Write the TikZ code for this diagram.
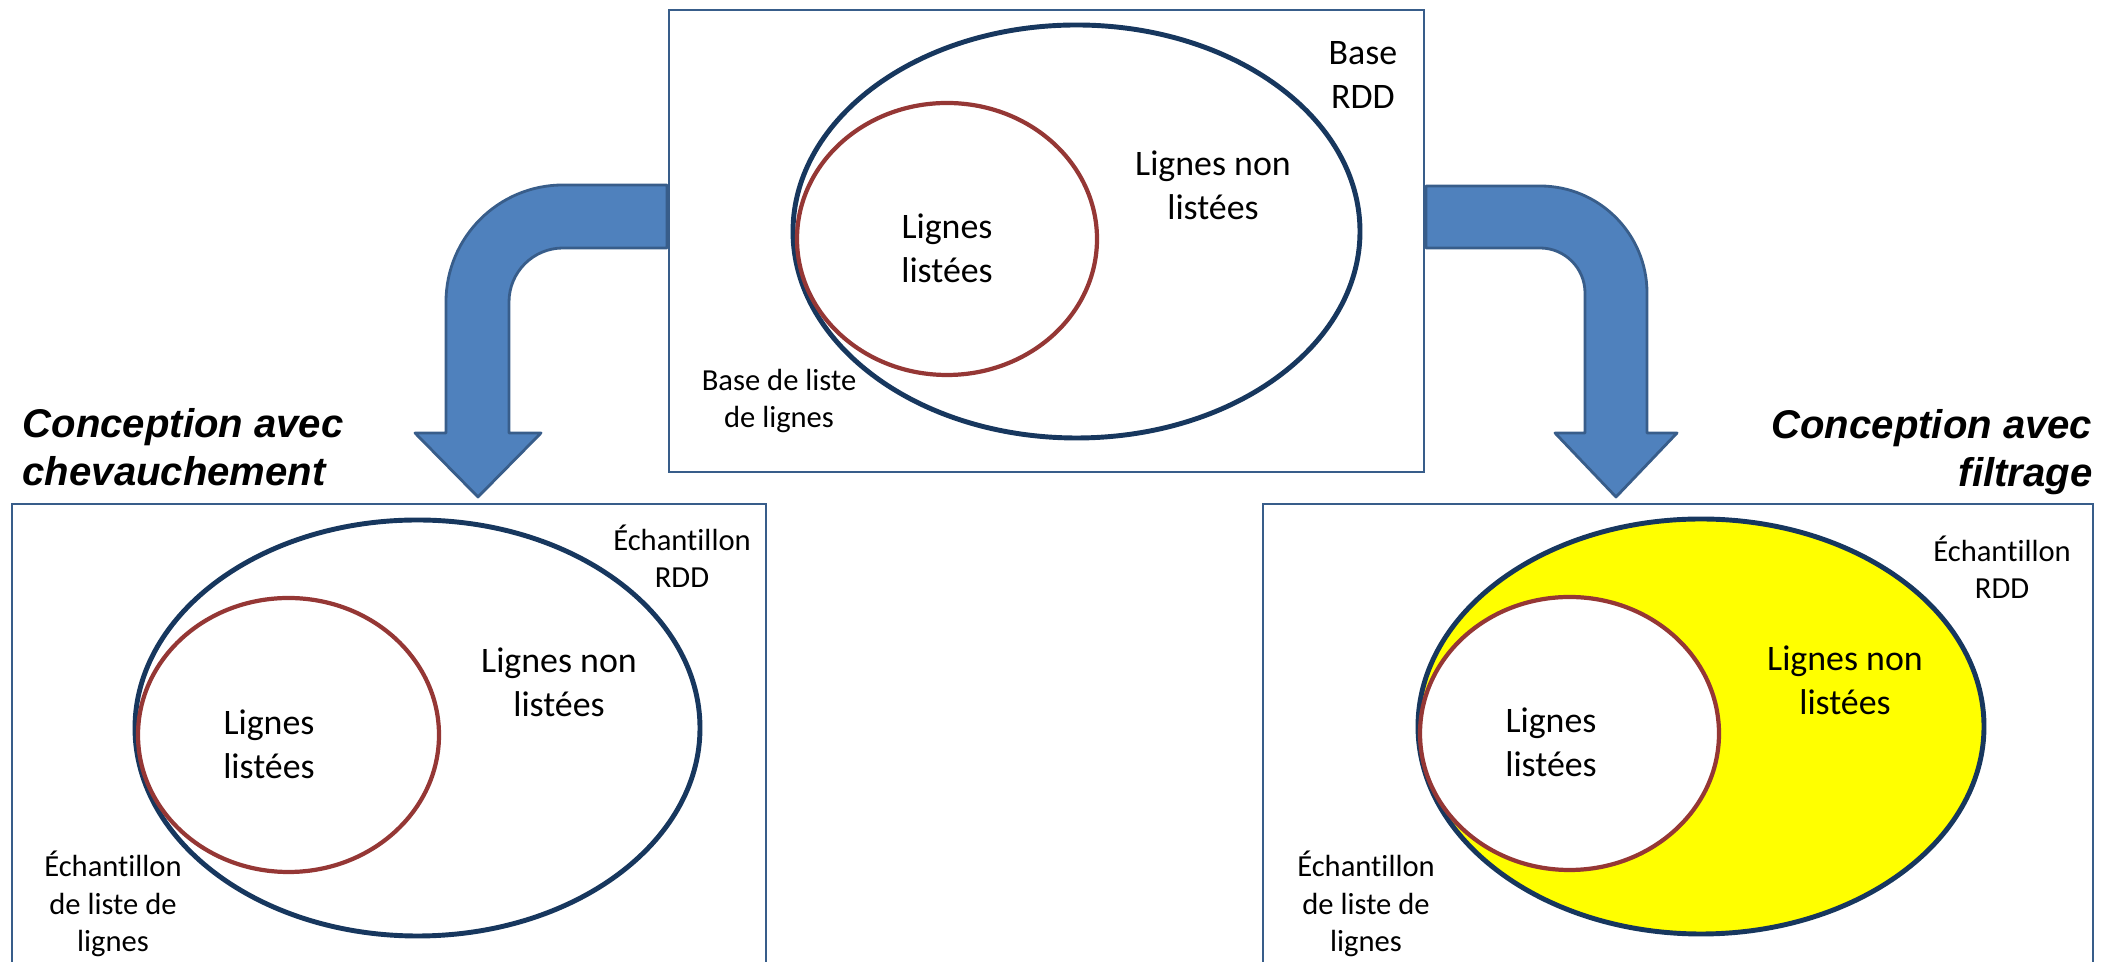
\documentclass[tikz,border=0pt]{standalone}
\usepackage{fontspec}
\setmainfont{Carlito}[Ligatures=NoCommon]
\newfontfamily\titrefont{Liberation Sans}
\usepackage{tikz}
\usetikzlibrary{calc}

\definecolor{cadre}{RGB}{56,93,138}
\definecolor{marine}{RGB}{23,55,94}
\definecolor{brique}{RGB}{149,55,53}
\definecolor{bleufleche}{RGB}{79,129,189}
\definecolor{jaune}{RGB}{255,255,0}

\tikzset{
  boite/.style={draw=cadre, line width=0.6pt},
  rdd/.style={draw=marine, line width=1.4pt},
  liste/.style={draw=brique, line width=1.2pt},
  fleche/.style={draw=cadre, fill=bleufleche, line width=0.8pt, line join=round},
  texte/.style={inner sep=0pt, anchor=base, align=center, font=\fontsize{10.2}{12.6}\selectfont},
  etiquette/.style={inner sep=0pt, anchor=base, align=center, font=\fontsize{8.7}{10.8}\selectfont},
  titre/.style={inner sep=0pt, font=\titrefont\bfseries\itshape\fontsize{11.4}{13.7}\selectfont}
}

\begin{document}
\begin{tikzpicture}[x=0.01cm, y=-0.01cm]
\useasboundingbox (0,0) rectangle (2112,962);

% base
\draw[boite] (669,10) rectangle (1424,472);
\draw[rdd] (1076.5,231.5) ellipse [x radius=283.5, y radius=206.5];
\draw[liste] (947,239) ellipse [x radius=150, y radius=136];
\node[texte] (baseIn) at (947,283) {Lignes\\listées};
\node[texte] (baseOut) at (1213,220) {Lignes non\\listées};
\node[texte] (baseRdd) at (1363,109) {Base\\RDD};
\node[etiquette] (baseListe) at (779,428) {Base de liste\\de lignes};

% fleches
\draw[fleche] (667,185) -- (563,185) arc[start angle=270, end angle=180, radius=117]
  -- (446,433) -- (415,433) -- (478,497) -- (541,433) -- (509,433) -- (509,302)
  arc[start angle=180, end angle=270, radius=54] -- (667,248) -- cycle;
\draw[fleche] (1426,186) -- (1540,186) arc[start angle=270, end angle=360, radius=107]
  -- (1647,433) -- (1677,433) -- (1616,497) -- (1555,433) -- (1585,433) -- (1585,293)
  arc[start angle=0, end angle=-90, radius=45] -- (1426,248) -- cycle;

\node[titre, anchor=base west, align=left] (titreChev) at (22,486) {Conception avec\\chevauchement};
\node[titre, anchor=base east, align=right] (titreFiltre) at (2093,487) {Conception avec\\filtrage};

% chevauchement
\draw[boite] (12,962) -- (12,504) -- (766,504) -- (766,962);
\draw[rdd] (417.5,728) ellipse [x radius=282.5, y radius=208];
\draw[liste] (288.5,735) ellipse [x radius=150.5, y radius=137];
\node[texte] (chevIn) at (269,779) {Lignes\\listées};
\node[texte] (chevOut) at (559,717) {Lignes non\\listées};
\node[etiquette] (chevRdd) at (682,588) {Échantillon\\RDD};
\node[etiquette] (chevListe) at (113,952) {Échantillon\\de liste de\\lignes};

% filtrage
\draw[boite] (1263,962) -- (1263,504) -- (2093,504) -- (2093,962);
\draw[rdd, fill=jaune] (1701,726.5) ellipse [x radius=283, y radius=207.5];
\draw[liste, fill=white] (1569.5,733.5) ellipse [x radius=149.5, y radius=136.5];
\node[texte] (filtreIn) at (1551,777) {Lignes\\listées};
\node[texte] (filtreOut) at (1845,715) {Lignes non\\listées};
\node[etiquette] (filtreRdd) at (2002,599) {Échantillon\\RDD};
\node[etiquette] (filtreListe) at (1366,952) {Échantillon\\de liste de\\lignes};
\end{tikzpicture}
\end{document}
